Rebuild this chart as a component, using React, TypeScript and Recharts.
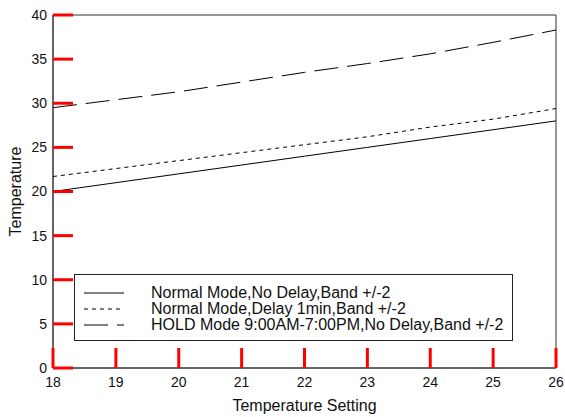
import React from 'react';
import { LineChart, Line, XAxis, YAxis, Legend, ReferenceArea } from 'recharts';

const settings = [18, 19, 20, 21, 22, 23, 24, 25, 26];
const normalNoDelay = [20, 21, 22, 23, 24, 25, 26, 27, 28];
const normalDelay = [21.7, 22.6, 23.5, 24.4, 25.3, 26.2, 27.3, 28.2, 29.4];
const holdMode = [29.5, 30.4, 31.3, 32.4, 33.5, 34.5, 35.6, 36.9, 38.3];

const xTicks = [18, 19, 20, 21, 22, 23, 24, 25, 26];
const yTicks = [0, 5, 10, 15, 20, 25, 30, 35, 40];
const xDomain = [18, 26];
const yDomain = [0, 40];

const seriesNames = [
  'Normal Mode,No Delay,Band +/-2',
  'Normal Mode,Delay 1min,Band +/-2',
  'HOLD Mode 9:00AM-7:00PM,No Delay,Band +/-2',
];
const dashes = ['', '4 4', '24 9'];

const data = settings.map((s, i) => ({
  x: s,
  a: normalNoDelay[i],
  b: normalDelay[i],
  c: holdMode[i],
}));

const FONT = 'Liberation Sans, Arial, sans-serif';
const AXIS = '#333';
const TICKC = 'red';
const TXT = '#111';
const TICK_LEN = 20;
const X_MARGIN = 9;
const Y_MARGIN = 6;

const BottomTick = (props: any) => {
  const { x, y, payload } = props;
  const axisY = y - X_MARGIN;
  return (
    <g>
      <path d={`M${x},${axisY}L${x},${axisY - TICK_LEN}`} stroke={TICKC} strokeWidth={3} fill="none" />
      <text x={x} y={y} dy="0.71em" textAnchor="middle" fill={TXT} fontSize={14} fontFamily={FONT}>
        {payload.value}
      </text>
    </g>
  );
};

const LeftTick = (props: any) => {
  const { x, y, payload } = props;
  const axisX = x + Y_MARGIN;
  return (
    <g>
      <path d={`M${axisX},${y}L${axisX + TICK_LEN},${y}`} stroke={TICKC} strokeWidth={3} fill="none" />
      <text x={x} y={y} dy="0.355em" textAnchor="end" fill={TXT} fontSize={14} fontFamily={FONT}>
        {payload.value}
      </text>
    </g>
  );
};

const LegendBox = () => (
  <div
    style={{
      position: 'absolute',
      left: 74,
      top: 274,
      width: 439,
      height: 67,
      border: '1px solid #222',
      background: '#fff',
      boxSizing: 'border-box',
      fontFamily: FONT,
      fontSize: 16,
      color: TXT,
    }}
  >
    {seriesNames.map((n, i) => (
      <div
        key={n}
        style={{ position: 'absolute', left: 8, top: 10 + i * 16, height: 16, display: 'flex', alignItems: 'center' }}
      >
        <svg width={42} height={16} style={{ display: 'block' }}>
          <line x1={1} y1={8} x2={41} y2={8} stroke="#000" strokeWidth={1} strokeDasharray={dashes[i] || undefined} />
        </svg>
        <span style={{ marginLeft: 26, whiteSpace: 'nowrap', lineHeight: '16px' }}>{n}</span>
      </div>
    ))}
  </div>
);

export default function App() {
  return (
    <div style={{ position: 'absolute', left: 0, top: 0, width: 565, height: 417, background: '#fff', fontFamily: FONT }}>
      <LineChart width={565} height={417} data={data} margin={{ top: 15, right: 9, left: 0, bottom: 0 }}>
        <XAxis
          dataKey="x"
          type="number"
          domain={xDomain}
          ticks={xTicks}
          interval={0}
          height={49}
          tickSize={0}
          tickMargin={X_MARGIN}
          tickLine={false}
          stroke={AXIS}
          tick={<BottomTick />}
          label={{ value: 'Temperature Setting', position: 'insideBottom', offset: 6, fill: TXT, fontSize: 16, fontFamily: FONT }}
        />
        <YAxis
          type="number"
          domain={yDomain}
          ticks={yTicks}
          interval={0}
          width={53}
          tickSize={0}
          tickMargin={Y_MARGIN}
          tickLine={false}
          stroke={AXIS}
          tick={<LeftTick />}
          label={{ value: 'Temperature', angle: -90, position: 'insideLeft', offset: 15, fill: TXT, fontSize: 16, fontFamily: FONT, style: { textAnchor: 'middle' } }}
        />
        <ReferenceArea x1={xDomain[0]} x2={xDomain[1]} y1={yDomain[0]} y2={yDomain[1]} fill="none" fillOpacity={0} stroke={AXIS} strokeWidth={1} ifOverflow="visible" />
        <Legend content={() => <LegendBox />} wrapperStyle={{ position: 'absolute', left: 0, top: 0, width: 0, height: 0 }} />
        <Line dataKey="a" name={seriesNames[0]} stroke="#000" strokeWidth={1} dot={false} isAnimationActive={false} />
        <Line dataKey="b" name={seriesNames[1]} stroke="#000" strokeWidth={1} strokeDasharray="4 4" dot={false} isAnimationActive={false} />
        <Line dataKey="c" name={seriesNames[2]} stroke="#000" strokeWidth={1} strokeDasharray="24 9" dot={false} isAnimationActive={false} />
      </LineChart>
    </div>
  );
}
